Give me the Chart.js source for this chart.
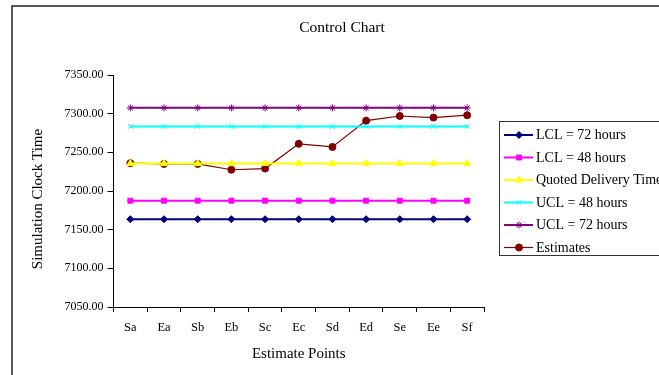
<!DOCTYPE html>
<html>
<head>
<meta charset="utf-8">
<title>Control Chart</title>
<script src="https://cdn.jsdelivr.net/npm/chart.js@4/dist/chart.umd.min.js"></script>
<style>
  html, body { margin: 0; padding: 0; background: #fff; }
  #wrap { width: 659px; height: 375px; position: relative; }
</style>
</head>
<body>
<div id="wrap"><canvas id="c" width="659" height="375"></canvas></div>
<script>
// Estimate points along the x axis
const categories = ['Sa', 'Ea', 'Sb', 'Eb', 'Sc', 'Ec', 'Sd', 'Ed', 'Se', 'Ee', 'Sf'];

// Control limits around the quoted delivery time
const lcl72  = [7163.5, 7163.5, 7163.5, 7163.5, 7163.5, 7163.5, 7163.5, 7163.5, 7163.5, 7163.5, 7163.5];
const lcl48  = [7187.5, 7187.5, 7187.5, 7187.5, 7187.5, 7187.5, 7187.5, 7187.5, 7187.5, 7187.5, 7187.5];
const quoted = [7235.5, 7235.5, 7235.5, 7235.5, 7235.5, 7235.5, 7235.5, 7235.5, 7235.5, 7235.5, 7235.5];
const ucl48  = [7283.5, 7283.5, 7283.5, 7283.5, 7283.5, 7283.5, 7283.5, 7283.5, 7283.5, 7283.5, 7283.5];
const ucl72  = [7307.5, 7307.5, 7307.5, 7307.5, 7307.5, 7307.5, 7307.5, 7307.5, 7307.5, 7307.5, 7307.5];

// Simulated completion estimates
const estimates = [7236, 7235, 7235, 7227.5, 7229, 7261, 7257, 7291, 7297, 7295, 7298];

const seriesNames = ['LCL = 72 hours', 'LCL = 48 hours', 'Quoted Delivery Time', 'UCL = 48 hours', 'UCL = 72 hours', 'Estimates'];

// Y axis range
const yMin = 7050, yMax = 7350, yStep = 50;

const SERIF = '"Liberation Serif", "Times New Roman", serif';

function series(label, data, color, style, radius, width) {
  return {
    label, data,
    borderColor: color,
    backgroundColor: color,
    pointBackgroundColor: color,
    pointBorderColor: color,
    pointStyle: style,
    pointRadius: radius,
    pointHoverRadius: radius,
    pointBorderWidth: 1,
    borderWidth: width,
    tension: 0,
    fill: false
  };
}

const datasets = [
  series(seriesNames[0], lcl72,  '#000080', 'rectRot',  3.5, 2),
  series(seriesNames[1], lcl48,  '#FF00FF', 'rect',     3.5, 2),
  series(seriesNames[2], quoted, '#FFFF00', 'triangle', 4,   2),
  series(seriesNames[3], ucl48,  '#00FFFF', 'crossRot', 3.5, 2),
  series(seriesNames[4], ucl72,  '#800080', 'star',     3.5, 2),
  series(seriesNames[5], estimates, '#800000', 'circle', 3.5, 1.2)
];

// Frame, titles and legend box
const decorations = {
  id: 'decorations',
  beforeDraw(chart) {
    const ctx = chart.ctx;
    ctx.save();
    ctx.fillStyle = '#ffffff';
    ctx.fillRect(0, 0, chart.width, chart.height);
    ctx.restore();
  },
  afterDraw(chart) {
    const ctx = chart.ctx;
    const area = chart.chartArea;
    ctx.save();

    // outer frame
    ctx.strokeStyle = '#222';
    ctx.lineWidth = 1.5;
    ctx.beginPath();
    ctx.moveTo(12, chart.height + 2);
    ctx.lineTo(12, 6);
    ctx.lineTo(chart.width + 2, 6);
    ctx.stroke();

    // chart title
    ctx.fillStyle = '#000';
    ctx.textAlign = 'center';
    ctx.textBaseline = 'middle';
    ctx.font = '15.5px ' + SERIF;
    ctx.fillText('Control Chart', 342, 28);

    // axis titles
    ctx.font = '15px ' + SERIF;
    ctx.fillText('Estimate Points', (area.left + area.right) / 2, 354);
    ctx.save();
    ctx.translate(38, 199);
    ctx.rotate(-Math.PI / 2);
    ctx.fillText('Simulation Clock Time', 0, 0);
    ctx.restore();

    // legend
    const lx = 499.5, ly = 121.5, lh = 134;
    ctx.strokeStyle = '#333';
    ctx.lineWidth = 1;
    ctx.strokeRect(lx, ly, chart.width + 10 - lx, lh);
    ctx.font = '14px ' + SERIF;
    ctx.textAlign = 'left';
    ctx.textBaseline = 'middle';
    chart.data.datasets.forEach((ds, i) => {
      const y = 135 + i * 22.5;
      ctx.strokeStyle = ds.borderColor;
      ctx.lineWidth = ds.borderWidth;
      ctx.beginPath();
      ctx.moveTo(504, y);
      ctx.lineTo(533, y);
      ctx.stroke();
      ctx.fillStyle = ds.pointBackgroundColor;
      ctx.strokeStyle = ds.pointBorderColor;
      ctx.lineWidth = 1;
      if (Chart.helpers && Chart.helpers.drawPoint) {
        Chart.helpers.drawPoint(ctx, {
          pointStyle: ds.pointStyle, radius: ds.pointRadius, rotation: 0, borderWidth: 1
        }, 519, y);
      } else {
        ctx.beginPath();
        ctx.arc(519, y, ds.pointRadius, 0, Math.PI * 2);
        ctx.fill();
      }
      ctx.fillStyle = '#000';
      ctx.fillText(ds.label, 536, y + 0.5);
    });
    ctx.restore();
  }
};

new Chart(document.getElementById('c'), {
  type: 'line',
  data: { labels: categories, datasets },
  plugins: [decorations],
  options: {
    responsive: false,
    animation: false,
    events: [],
    layout: { padding: { left: 13, top: 75, right: 175, bottom: 28 } },
    plugins: {
      legend: { display: false },
      title: { display: false },
      tooltip: { enabled: false }
    },
    scales: {
      x: {
        type: 'category',
        offset: true,
        afterFit(scale) { scale.height = 40; },
        grid: {
          offset: true,
          drawOnChartArea: false,
          drawTicks: true,
          tickLength: 5,
          color: '#000',
          lineWidth: 1
        },
        border: { display: true, color: '#000', width: 1 },
        ticks: {
          color: '#000',
          padding: 8,
          maxRotation: 0,
          autoSkip: false,
          font: { family: SERIF, size: 12.5 }
        }
      },
      y: {
        min: yMin,
        max: yMax,
        afterFit(scale) { scale.width = 100.5; },
        grid: {
          drawOnChartArea: false,
          drawTicks: true,
          tickLength: 6,
          color: '#000',
          lineWidth: 1
        },
        border: { display: true, color: '#000', width: 1 },
        ticks: {
          stepSize: yStep,
          color: '#000',
          padding: 4,
          font: { family: SERIF, size: 12 },
          callback: v => Number(v).toFixed(2)
        }
      }
    }
  }
});
</script>
</body>
</html>
